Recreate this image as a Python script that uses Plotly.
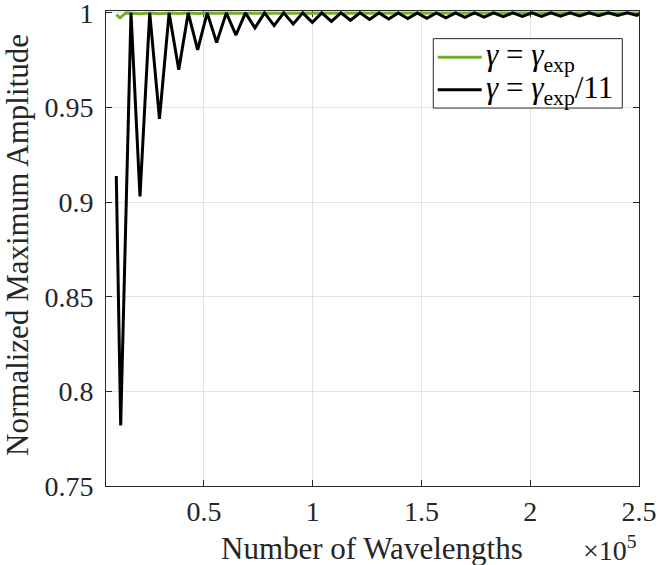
import plotly.graph_objects as go

# ---------------- data ----------------
black_x = [9730, 11750, 16490, 20620, 25100, 29580, 34010, 38450, 42790, 47130,
           51500, 55860, 60300, 64730, 69090, 73460, 77870, 82280, 86670, 91060,
           95440, 99830, 104220, 108610, 113000, 117380, 121770, 126160, 130550, 134930,
           139320, 143710, 148100, 152480, 156870, 161260, 165650, 170030, 174420, 178810,
           183200, 187590, 191970, 196360, 200750, 205140, 209520, 213910, 218300, 222690,
           227070, 231460, 235850, 240240, 244630, 249010, 250000]
black_y = [0.9138, 0.782, 1.0, 0.903, 1.0, 0.944, 1.0, 0.970, 1.0, 0.9804,
           1.0, 0.9843, 1.0, 0.9883, 1.0, 0.9921, 1.0, 0.9933, 1.0, 0.9942,
           1.0, 0.9950, 1.0, 0.9955, 1.0, 0.9961, 1.0, 0.9965, 1.0, 0.9968,
           1.0, 0.9970, 1.0, 0.9972, 1.0, 0.9974, 1.0, 0.9976, 1.0, 0.9978,
           1.0, 0.9980, 1.0, 0.9981, 1.0, 0.9982, 1.0, 0.9983, 1.0, 0.9984,
           1.0, 0.9985, 1.0, 0.9986, 1.0, 0.9987, 0.9995]

green_x = [9730, 11430, 14190, 20620, 25100, 29580, 34010, 38450, 42790, 47130,
           51500, 55860, 60300, 64730, 250000]
green_y = [0.9991, 0.9974, 1.0, 0.9995, 1.0, 0.9996, 1.0, 0.9997, 1.0, 0.9997,
           1.0, 0.9998, 1.0, 0.9998, 1.0]

x_tickvals = [50000, 100000, 150000, 200000, 250000]
x_ticktext = ["0.5", "1", "1.5", "2", "2.5"]
y_tickvals = [0.75, 0.8, 0.85, 0.9, 0.95, 1.0]
y_ticktext = ["0.75", "0.8", "0.85", "0.9", "0.95", "1"]

name_green = "<i>γ</i> = <i>γ</i><sub>exp</sub>"
name_black = "<i>γ</i> = <i>γ</i><sub>exp</sub>/11"
x_title = "Number of Wavelengths"
x_exp = "×10<sup>5</sup>"
y_title = "Normalized Maximum Amplitude"

# ---------------- figure ----------------
W, H = 660, 565
ML, MR, MT, MB = 106, 21, 11.4, 79.3
FONT = "Liberation Serif, Times New Roman, serif"
AX = "#262626"
GRID = "#e3e3e3"
GREEN = "#77AC30"

pw = W - ML - MR
ph = H - MT - MB


def px_x(p):
    return (p - ML) / pw


def px_y(p):
    return (H - MB - p) / ph


fig = go.Figure()
fig.add_trace(go.Scatter(x=green_x, y=green_y, mode="lines", name=name_green,
                         showlegend=False, line=dict(color=GREEN, width=3)))
fig.add_trace(go.Scatter(x=black_x, y=black_y, mode="lines", name=name_black,
                         showlegend=False, line=dict(color="#000000", width=3)))

# legend drawn by hand (box, sample lines, labels)
LEG_L, LEG_R, LEG_T, LEG_B = 433.3, 622.3, 39, 108.3
rows = [(57.7, GREEN, name_green), (90, "#000000", name_black)]
shapes = [dict(type="rect", xref="paper", yref="paper",
               x0=px_x(LEG_L), x1=px_x(LEG_R), y0=px_y(LEG_B), y1=px_y(LEG_T),
               line=dict(color=AX, width=1), fillcolor="white", layer="above")]
annotations = []
for yy, col, txt in rows:
    shapes.append(dict(type="line", xref="paper", yref="paper",
                       x0=px_x(437.7), x1=px_x(481.7), y0=px_y(yy), y1=px_y(yy),
                       line=dict(color=col, width=3), layer="above"))
    annotations.append(dict(text=txt, x=px_x(484), y=px_y(yy), xref="paper", yref="paper",
                            xanchor="left", yanchor="middle", showarrow=False,
                            font=dict(family=FONT, size=31, color="#000000")))

annotations += [
    dict(text=x_title, x=px_x(372), y=px_y(548), xref="paper", yref="paper",
         xanchor="center", yanchor="middle", showarrow=False,
         font=dict(family=FONT, size=31, color=AX)),
    dict(text=x_exp, x=px_x(610), y=px_y(548), xref="paper", yref="paper",
         xanchor="center", yanchor="middle", showarrow=False,
         font=dict(family=FONT, size=28, color=AX)),
    dict(text=y_title, x=px_x(18), y=px_y(245), xref="paper", yref="paper",
         xanchor="center", yanchor="middle", showarrow=False, textangle=-90,
         font=dict(family=FONT, size=31, color=AX)),
]

axis_common = dict(showgrid=True, gridcolor=GRID, gridwidth=1, zeroline=False,
                   showline=True, linecolor=AX, linewidth=1, mirror="ticks",
                   ticks="inside", ticklen=6, tickcolor=AX, tickwidth=1,
                   layer="below traces", ticklabeloverflow="allow", automargin=False,
                   tickfont=dict(family=FONT, size=28, color=AX))

fig.update_layout(
    width=W, height=H,
    margin=dict(l=ML, r=MR, t=MT, b=MB, pad=0, autoexpand=False),
    paper_bgcolor="white", plot_bgcolor="white",
    font=dict(family=FONT, size=28, color=AX),
    showlegend=False,
    xaxis=dict(range=[5000, 250000], tickvals=x_tickvals, ticktext=x_ticktext,
               ticklabelstandoff=0, **axis_common),
    yaxis=dict(range=[0.75, 1.001], tickvals=y_tickvals, ticktext=y_ticktext,
               ticklabelstandoff=6, **axis_common),
    shapes=shapes,
    annotations=annotations,
)

fig.write_html("out.html", config={"displayModeBar": False},
               post_script="document.body.style.margin='0px';document.body.style.padding='0px';")
